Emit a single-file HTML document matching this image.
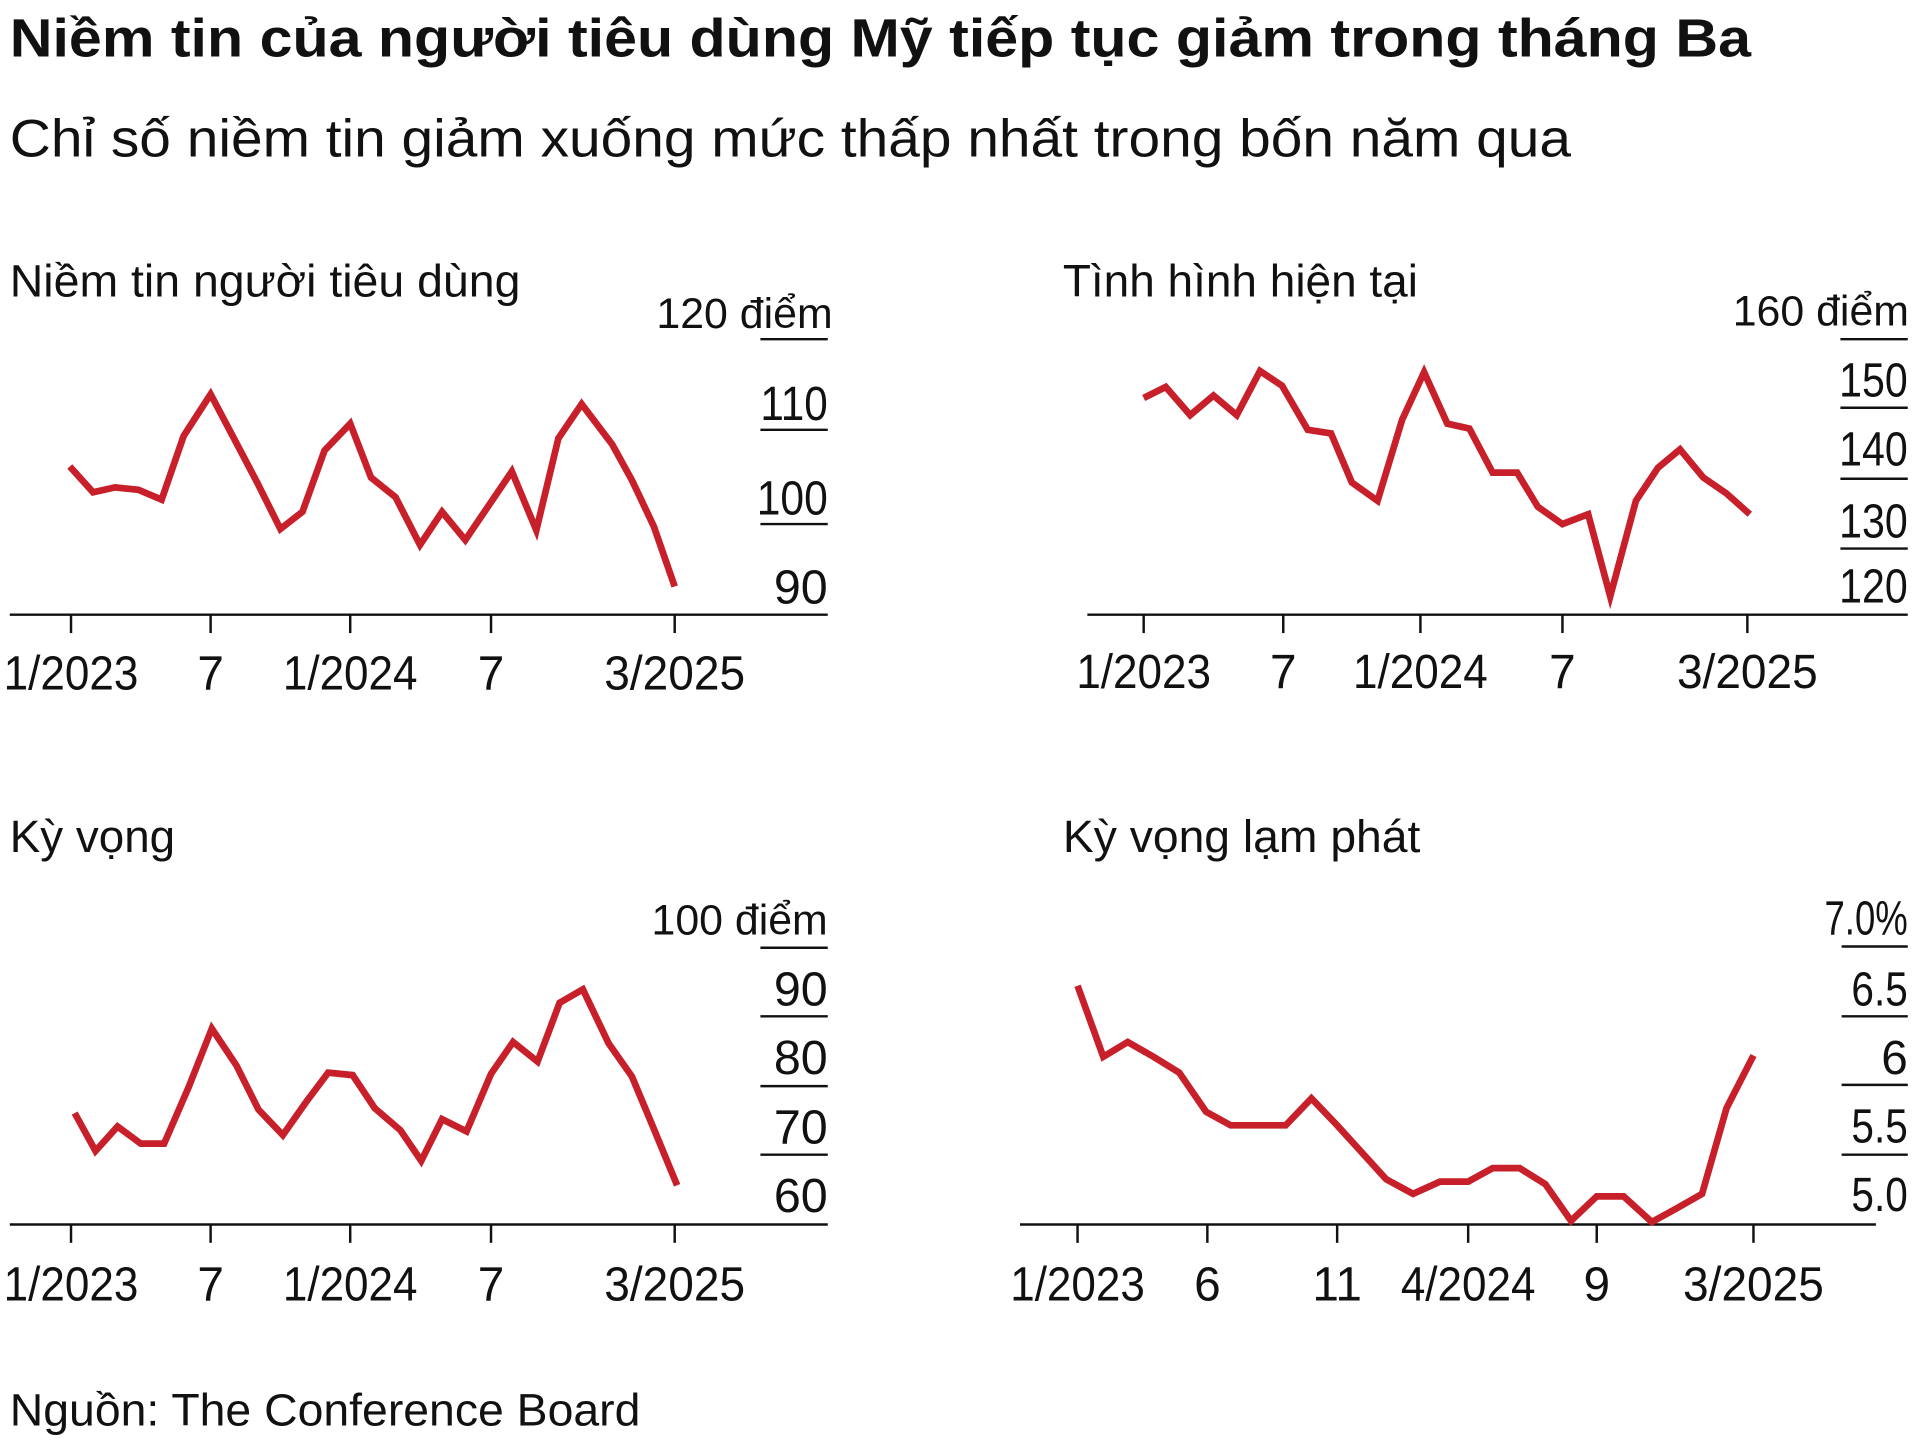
<!DOCTYPE html>
<html><head><meta charset="utf-8"><style>
html,body{margin:0;padding:0;background:#fff;}
svg{display:block;}
text{font-family:"Liberation Sans",sans-serif;fill:#111;}
.t{font-size:37px;}
.ax{font-size:39px;}
.u{font-size:35px;}
.ln{fill:none;stroke:#c8202a;stroke-width:5.5;stroke-linejoin:miter;}
.k{stroke:#111;stroke-width:2;}
</style></head><body>
<svg width="1920" height="1440" viewBox="0 0 1568 1176" xmlns="http://www.w3.org/2000/svg">
<text x="8" y="46" style="font-size:44px;font-weight:bold" textLength="1422" lengthAdjust="spacingAndGlyphs">Niềm tin của người tiêu dùng Mỹ tiếp tục giảm trong tháng Ba</text>
<text x="8" y="128" style="font-size:43px" textLength="1275" lengthAdjust="spacingAndGlyphs">Chỉ số niềm tin giảm xuống mức thấp nhất trong bốn năm qua</text>

<!-- Chart 1 -->
<text x="8" y="242" class="t" textLength="417" lengthAdjust="spacingAndGlyphs">Niềm tin người tiêu dùng</text>
<text x="680" y="268" class="u" text-anchor="end">120 điểm</text>
<g class="ax" text-anchor="end">
<text x="676" y="343" textLength="55" lengthAdjust="spacingAndGlyphs">110</text><text x="676" y="420" textLength="58" lengthAdjust="spacingAndGlyphs">100</text><text x="676" y="493" textLength="44" lengthAdjust="spacingAndGlyphs">90</text>
</g>
<line class="k" x1="621" y1="277" x2="676" y2="277"/><line class="k" x1="621" y1="351" x2="676" y2="351"/><line class="k" x1="621" y1="428" x2="676" y2="428"/>
<line class="k" x1="8" y1="502" x2="676" y2="502"/>
<g class="k"><line x1="58" y1="502" x2="58" y2="517"/><line x1="172" y1="502" x2="172" y2="517"/><line x1="286" y1="502" x2="286" y2="517"/><line x1="401" y1="502" x2="401" y2="517"/><line x1="551" y1="502" x2="551" y2="517"/></g>
<g class="ax" text-anchor="middle"><text x="58" y="563" textLength="110" lengthAdjust="spacingAndGlyphs">1/2023</text><text x="172" y="563">7</text><text x="286" y="563" textLength="110" lengthAdjust="spacingAndGlyphs">1/2024</text><text x="401" y="563">7</text><text x="551" y="563" textLength="115" lengthAdjust="spacingAndGlyphs">3/2025</text></g>
<polyline class="ln" points="57,381 76,402 94,398 113,400 132,408 150,356 172,322 190,356 210,394 229,432 247,418 265,368 286,346 303,390 323,406 343,445 361,418 380,441 399,413 418,385 438,433 456,358 475,330 500,363 516,392 534,430 551,479"/>

<!-- Chart 2 -->
<text x="868" y="242" class="t" textLength="290" lengthAdjust="spacingAndGlyphs">Tình hình hiện tại</text>
<text x="1559" y="266" class="u" text-anchor="end">160 điểm</text>
<g class="ax" text-anchor="end">
<text x="1558" y="324" textLength="56" lengthAdjust="spacingAndGlyphs">150</text><text x="1558" y="380" textLength="56" lengthAdjust="spacingAndGlyphs">140</text><text x="1558" y="439" textLength="56" lengthAdjust="spacingAndGlyphs">130</text><text x="1558" y="492" textLength="56" lengthAdjust="spacingAndGlyphs">120</text>
</g>
<line class="k" x1="1503" y1="277" x2="1558" y2="277"/><line class="k" x1="1503" y1="333" x2="1558" y2="333"/><line class="k" x1="1503" y1="391" x2="1558" y2="391"/><line class="k" x1="1503" y1="448" x2="1558" y2="448"/>
<line class="k" x1="888" y1="502" x2="1558" y2="502"/>
<g class="k"><line x1="934" y1="502" x2="934" y2="517"/><line x1="1048" y1="502" x2="1048" y2="517"/><line x1="1160" y1="502" x2="1160" y2="517"/><line x1="1276" y1="502" x2="1276" y2="517"/><line x1="1427" y1="502" x2="1427" y2="517"/></g>
<g class="ax" text-anchor="middle"><text x="934" y="562" textLength="110" lengthAdjust="spacingAndGlyphs">1/2023</text><text x="1048" y="562">7</text><text x="1160" y="562" textLength="110" lengthAdjust="spacingAndGlyphs">1/2024</text><text x="1276" y="562">7</text><text x="1427" y="562" textLength="115" lengthAdjust="spacingAndGlyphs">3/2025</text></g>
<polyline class="ln" points="934,325 952,316 972,339 991,323 1010,339 1029,303 1047,315 1068,351 1087,354 1104,394 1125,409 1145,343 1163,304 1182,346 1200,350 1219,386 1239,386 1256,414 1276,428 1297,420 1315,487 1336,409 1354,382 1372,367 1391,390 1410,403 1429,420"/>

<!-- Chart 3 -->
<text x="8" y="696" class="t" textLength="135" lengthAdjust="spacingAndGlyphs">Kỳ vọng</text>
<text x="676" y="763" class="u" text-anchor="end">100 điểm</text>
<g class="ax" text-anchor="end">
<text x="676" y="821" textLength="44" lengthAdjust="spacingAndGlyphs">90</text><text x="676" y="877" textLength="44" lengthAdjust="spacingAndGlyphs">80</text><text x="676" y="934" textLength="44" lengthAdjust="spacingAndGlyphs">70</text><text x="676" y="990" textLength="44" lengthAdjust="spacingAndGlyphs">60</text>
</g>
<line class="k" x1="621" y1="774" x2="676" y2="774"/><line class="k" x1="621" y1="830" x2="676" y2="830"/><line class="k" x1="621" y1="887" x2="676" y2="887"/><line class="k" x1="621" y1="943" x2="676" y2="943"/>
<line class="k" x1="8" y1="1000" x2="676" y2="1000"/>
<g class="k"><line x1="58" y1="1000" x2="58" y2="1015"/><line x1="172" y1="1000" x2="172" y2="1015"/><line x1="286" y1="1000" x2="286" y2="1015"/><line x1="401" y1="1000" x2="401" y2="1015"/><line x1="551" y1="1000" x2="551" y2="1015"/></g>
<g class="ax" text-anchor="middle"><text x="58" y="1062" textLength="110" lengthAdjust="spacingAndGlyphs">1/2023</text><text x="172" y="1062">7</text><text x="286" y="1062" textLength="110" lengthAdjust="spacingAndGlyphs">1/2024</text><text x="401" y="1062">7</text><text x="551" y="1062" textLength="115" lengthAdjust="spacingAndGlyphs">3/2025</text></g>
<polyline class="ln" points="61,909 78,940 96,920 115,934 134,934 154,888 173,840 193,870 211,906 231,927 250,900 268,876 288,878 306,905 327,923 344,948 361,914 381,924 401,877 419,851 439,867 457,819 476,808 497,852 516,879 534,922 553,968"/>

<!-- Chart 4 -->
<text x="868" y="696" class="t" textLength="292" lengthAdjust="spacingAndGlyphs">Kỳ vọng lạm phát</text>
<g class="ax" text-anchor="end">
<text x="1558" y="763" textLength="68" lengthAdjust="spacingAndGlyphs">7.0%</text><text x="1558" y="821" textLength="46" lengthAdjust="spacingAndGlyphs">6.5</text><text x="1558" y="877">6</text><text x="1558" y="933" textLength="46" lengthAdjust="spacingAndGlyphs">5.5</text><text x="1558" y="989" textLength="46" lengthAdjust="spacingAndGlyphs">5.0</text>
</g>
<line class="k" x1="1504" y1="773" x2="1558" y2="773"/><line class="k" x1="1504" y1="830" x2="1558" y2="830"/><line class="k" x1="1504" y1="886" x2="1558" y2="886"/><line class="k" x1="1504" y1="943" x2="1558" y2="943"/>
<line class="k" x1="833" y1="1000" x2="1532" y2="1000"/>
<g class="k"><line x1="880" y1="1000" x2="880" y2="1015"/><line x1="986" y1="1000" x2="986" y2="1015"/><line x1="1092" y1="1000" x2="1092" y2="1015"/><line x1="1199" y1="1000" x2="1199" y2="1015"/><line x1="1304" y1="1000" x2="1304" y2="1015"/><line x1="1432" y1="1000" x2="1432" y2="1015"/></g>
<g class="ax" text-anchor="middle"><text x="880" y="1062" textLength="110" lengthAdjust="spacingAndGlyphs">1/2023</text><text x="986" y="1062">6</text><text x="1092" y="1062">11</text><text x="1199" y="1062" textLength="110" lengthAdjust="spacingAndGlyphs">4/2024</text><text x="1304" y="1062">9</text><text x="1432" y="1062" textLength="115" lengthAdjust="spacingAndGlyphs">3/2025</text></g>
<polyline class="ln" points="880,805 901,863 921,851 942,863 963,876 985,908 1005,919 1028,919 1050,919 1071,897 1092,919 1112,941 1132,963 1154,975 1176,965 1199,965 1219,954 1241,954 1262,967 1283,997 1304,977 1326,977 1349,998 1369,987 1390,975 1410,905 1432,862"/>

<text x="8" y="1164" class="t" textLength="515" lengthAdjust="spacingAndGlyphs">Nguồn: The Conference Board</text>
</svg>
</body></html>
